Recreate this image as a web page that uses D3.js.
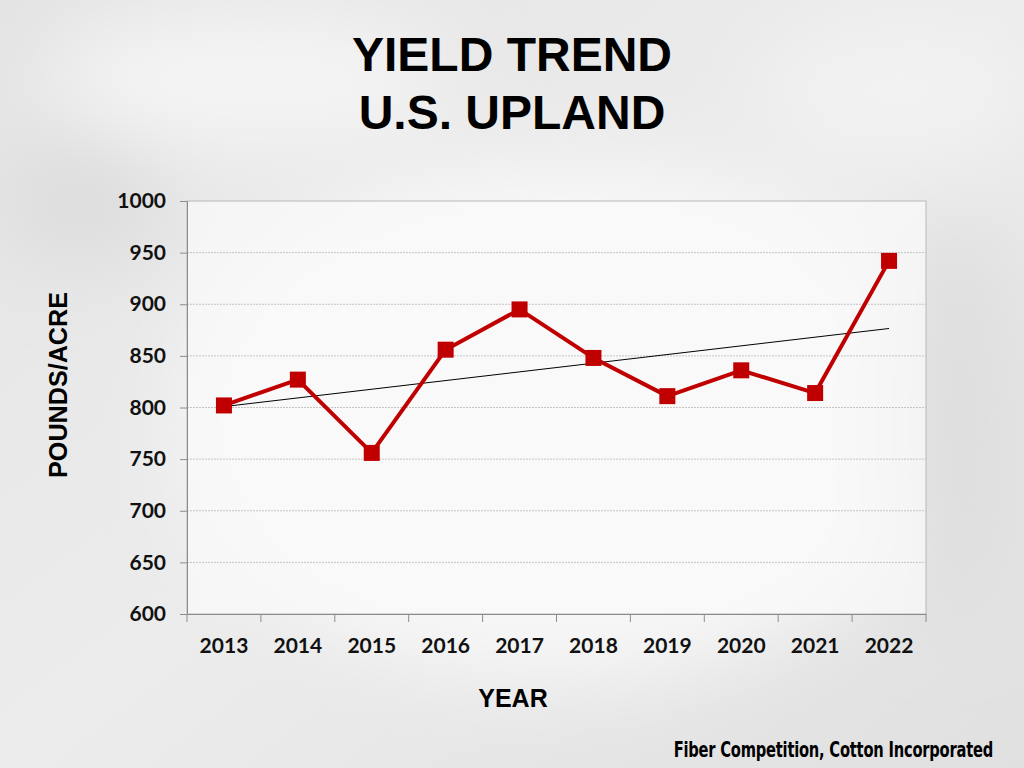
<!DOCTYPE html>
<html><head><meta charset="utf-8">
<script src="https://cdn.jsdelivr.net/npm/d3@7"></script>
<style>body{margin:0;background:#e9e9e9;overflow:hidden}</style>
</head><body>
<svg id="c" width="1024" height="768"></svg>
<script>
const years = ["2013","2014","2015","2016","2017","2018","2019","2020","2021","2022"];
const yieldValues = [802, 827, 756, 856, 895, 848, 811, 836, 814, 942];
const yTicks = [600, 650, 700, 750, 800, 850, 900, 950, 1000];
const titleLines = ["YIELD TREND", "U.S. UPLAND"];

const svg = d3.select("#c");
const W = 1024, H = 768;
const m = {left: 187, right: 926, top: 201, bottom: 614};

// background
const defs = svg.append("defs");
const bl = defs.append("filter").attr("id","blur").attr("x","-50%").attr("y","-50%").attr("width","200%").attr("height","200%");
bl.append("feGaussianBlur").attr("stdDeviation", 40);
const lg = defs.append("linearGradient").attr("id","bg").attr("x1",0).attr("y1",0).attr("x2",1).attr("y2",1);
lg.append("stop").attr("offset","0").attr("stop-color","#e4e4e4");
lg.append("stop").attr("offset","0.5").attr("stop-color","#ececec");
lg.append("stop").attr("offset","1").attr("stop-color","#e0e0e0");
svg.append("rect").attr("width",W).attr("height",H).attr("fill","url(#bg)");
const blobs = svg.append("g").attr("filter","url(#blur)");
blobs.append("ellipse").attr("cx",560).attr("cy",420).attr("rx",380).attr("ry",260).attr("fill","#f7f7f7");
blobs.append("ellipse").attr("cx",250).attr("cy",80).attr("rx",200).attr("ry",70).attr("fill","#f4f4f4");
blobs.append("ellipse").attr("cx",900).attr("cy",90).attr("rx",140).attr("ry",70).attr("fill","#f2f2f2");
blobs.append("ellipse").attr("cx",80).attr("cy",200).attr("rx",80).attr("ry",60).attr("fill","#dcdcdc");
blobs.append("ellipse").attr("cx",950).attr("cy",420).attr("rx",70).attr("ry",200).attr("fill","#dedede");

const x = d3.scaleBand().domain(years).range([m.left, m.right]);
const y = d3.scaleLinear().domain([600, 1000]).range([m.bottom, m.top]);

// plot area
svg.append("rect").attr("x",m.left).attr("y",m.top).attr("width",m.right-m.left).attr("height",m.bottom-m.top)
  .attr("fill","#fafafa").attr("fill-opacity",0.75).attr("stroke","#b8b8b8").attr("stroke-width",1);

// grid
svg.append("g").selectAll("line").data(yTicks.filter(t=>t>600 && t<1000)).join("line")
  .attr("x1",m.left).attr("x2",m.right).attr("y1",d=>y(d)).attr("y2",d=>y(d))
  .attr("stroke","#c4c4c4").attr("stroke-width",1).attr("stroke-dasharray","2,1");

const tickFont = "Lato, 'Open Sans', sans-serif";
// y axis
const yAxis = svg.append("g").attr("transform",`translate(${m.left},0)`)
  .call(d3.axisLeft(y).tickValues(yTicks).tickSize(7).tickPadding(14).tickFormat(d3.format("d")));
yAxis.select(".domain").attr("stroke","#8c8c8c");
yAxis.selectAll(".tick line").attr("stroke","#8c8c8c");
yAxis.selectAll("text").attr("font-family",tickFont).attr("font-weight","bold")
  .attr("font-size",21).attr("fill","#111");

// x axis
const xAxis = svg.append("g").attr("transform",`translate(0,${m.bottom})`)
  .call(d3.axisBottom(x).tickSize(0).tickPadding(24));
xAxis.select(".domain").attr("stroke","#8c8c8c");
xAxis.selectAll("text").attr("font-family",tickFont).attr("font-weight","bold")
  .attr("font-size",21).attr("fill","#111");
xAxis.selectAll(".bnd").data(d3.range(years.length+1)).join("line")
  .attr("x1",i=>m.left + i*x.step()).attr("x2",i=>m.left + i*x.step())
  .attr("y1",0).attr("y2",8).attr("stroke","#8c8c8c");

const cx = d => x(d) + x.bandwidth()/2;

// trend line (least squares from data)
const n = yieldValues.length;
const mx = d3.mean(d3.range(n)), my = d3.mean(yieldValues);
const slope = d3.sum(d3.range(n), i => (i-mx)*(yieldValues[i]-my)) / d3.sum(d3.range(n), i => (i-mx)*(i-mx));
const icpt = my - slope*mx;
svg.append("line")
  .attr("x1", cx(years[0])).attr("y1", y(icpt))
  .attr("x2", cx(years[n-1])).attr("y2", y(icpt + slope*(n-1)))
  .attr("stroke","#000").attr("stroke-width",1);

// series
const data = years.map((yr,i)=>({yr, v: yieldValues[i]}));
svg.append("path").datum(data)
  .attr("d", d3.line().x(d=>cx(d.yr)).y(d=>y(d.v)))
  .attr("fill","none").attr("stroke","#c00000").attr("stroke-width",4).attr("stroke-linejoin","round");
svg.append("g").selectAll("rect").data(data).join("rect")
  .attr("x", d=>cx(d.yr)-8).attr("y", d=>y(d.v)-8).attr("width",16).attr("height",16)
  .attr("fill","#c00000");

// titles
svg.append("g").selectAll("text").data(titleLines).join("text")
  .attr("x",512).attr("y",(d,i)=>71 + i*58).attr("text-anchor","middle")
  .attr("font-family","'Liberation Sans', Arial, sans-serif").attr("font-weight","bold")
  .attr("font-size",48).attr("fill","#000").text(d=>d);

svg.append("text").attr("transform","translate(67,385) rotate(-90)").attr("text-anchor","middle")
  .attr("font-family","'Liberation Sans', Arial, sans-serif").attr("font-weight","bold")
  .attr("font-size",25).attr("textLength",186).attr("lengthAdjust","spacingAndGlyphs")
  .attr("fill","#000").text("POUNDS/ACRE");

svg.append("text").attr("x",513).attr("y",707).attr("text-anchor","middle")
  .attr("font-family","'Liberation Sans', Arial, sans-serif").attr("font-weight","bold")
  .attr("font-size",25).attr("fill","#000").text("YEAR");

svg.append("text").attr("transform","translate(993,757) scale(1,1.25)").attr("text-anchor","end")
  .attr("font-family","'DejaVu Sans Condensed', 'Liberation Sans Narrow', sans-serif").attr("font-weight","bold")
  .attr("font-size",16.3).attr("letter-spacing",-0.2)
  .attr("fill","#000").text("Fiber Competition, Cotton Incorporated");
</script>
</body></html>
